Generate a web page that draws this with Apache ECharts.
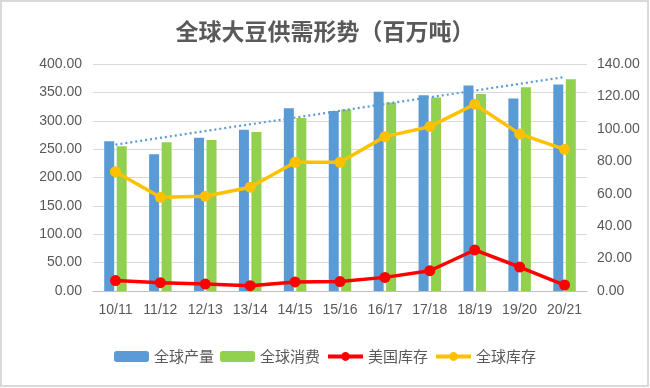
<!DOCTYPE html>
<html><head><meta charset="utf-8">
<script src="https://cdn.jsdelivr.net/npm/echarts@6/dist/echarts.min.js"></script>
<style>html,body{margin:0;padding:0;background:#fff}#c{width:650px;height:388px}</style>
</head><body><div id="c"></div>
<script>
const categories = ['10/11','11/12','12/13','13/14','14/15','15/16','16/17','17/18','18/19','19/20','20/21'];
const production = [264, 241, 270, 284, 322, 317, 351, 345, 362, 339, 364];
const consumption = [255, 262, 266, 280, 305, 320, 332, 341, 347, 359, 373];
const usStocks = [6.4, 5.1, 4.3, 3.3, 5.6, 5.8, 8.4, 12.5, 25.3, 14.8, 3.7];
const worldStocks = [73.6, 57.8, 58.4, 64.0, 79.4, 79.4, 95.2, 101.4, 115.2, 96.9, 87.4];
const trendProduction = [258, null, null, null, null, null, null, null, null, null, 377];
const leftTicks = {min: 0, max: 400, interval: 50};
const rightTicks = {min: 0, max: 140, interval: 20};

const txt = '#595959';
const chart = echarts.init(document.getElementById('c'));
chart.setOption({
  animation: false,
  backgroundColor: '#fff',
  graphic: [{type: 'rect', silent: true, shape: {x: 1, y: 1, width: 647, height: 385},
    style: {fill: 'none', stroke: '#d9d9d9', lineWidth: 2}}],
  title: {
    text: '全球大豆供需形势（百万吨）', left: 'center', top: 15,
    textStyle: {fontFamily: 'Noto Sans CJK SC', fontSize: 23, fontWeight: 'bold', color: txt}
  },
  legend: {
    data: [
      {name: '全球产量'}, {name: '全球消费'},
      {name: '美国库存', lineStyle: {width: 4}},
      {name: '全球库存', lineStyle: {width: 4}}
    ],
    bottom: 19, left: 'center', itemGap: 6, itemWidth: 35, itemHeight: 11,
    textStyle: {fontFamily: 'Noto Sans CJK SC', fontSize: 15, color: txt}
  },
  grid: {left: 93, right: 63, top: 64, bottom: 97},
  xAxis: {
    type: 'category', data: categories,
    axisLine: {lineStyle: {color: '#bfbfbf'}}, axisTick: {show: false},
    axisLabel: {color: txt, fontSize: 14, fontFamily: 'Liberation Sans', margin: 12, interval: 0}
  },
  yAxis: [{
    type: 'value', min: leftTicks.min, max: leftTicks.max, interval: leftTicks.interval,
    axisLine: {show: false}, axisTick: {show: false},
    splitLine: {lineStyle: {color: '#d9d9d9', width: 1}},
    axisLabel: {color: txt, fontSize: 14, fontFamily: 'Liberation Sans', margin: 11, formatter: v => v.toFixed(2)}
  }, {
    type: 'value', min: rightTicks.min, max: rightTicks.max, interval: rightTicks.interval,
    axisLine: {show: false}, axisTick: {show: false}, splitLine: {show: false},
    axisLabel: {color: txt, fontSize: 14, fontFamily: 'Liberation Sans', margin: 10, formatter: v => v.toFixed(2)}
  }],
  series: [
    {name: '全球产量', type: 'bar', data: production, itemStyle: {color: '#5B9BD5'},
      barWidth: 10, barGap: '25%'},
    {name: '全球消费', type: 'bar', data: consumption, itemStyle: {color: '#92D050'},
      barWidth: 10, barGap: '25%'},
    {name: 'trend', type: 'line', data: trendProduction, connectNulls: true, symbol: 'none',
      lineStyle: {color: '#5B9BD5', width: 2.2, type: [2, 3]}, z: 3},
    {name: '美国库存', type: 'line', yAxisIndex: 1, data: usStocks, symbol: 'circle', symbolSize: 11,
      itemStyle: {color: '#FF0000'}, lineStyle: {color: '#FF0000', width: 3.5}, z: 4},
    {name: '全球库存', type: 'line', yAxisIndex: 1, data: worldStocks, symbol: 'circle', symbolSize: 11,
      itemStyle: {color: '#FFC000'}, lineStyle: {color: '#FFC000', width: 3.5}, z: 4}
  ]
});
</script></body></html>
